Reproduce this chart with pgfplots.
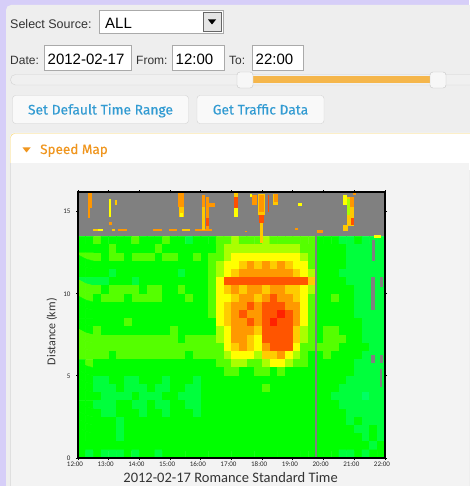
\documentclass[border=0pt]{standalone}
\usepackage{pgfplots}
\pgfplotsset{compat=1.18}
\usepackage{fontspec}
\setmainfont{Liberation Sans}
\newfontfamily\carlito{Carlito}
\newfontfamily\fira[FakeBold=0.3]{Fira Sans}
\definecolor{lav}{RGB}{214,206,248}
\definecolor{panelbg}{RGB}{238,238,238}
\definecolor{secbg}{RGB}{243,243,243}
\definecolor{uitext}{RGB}{51,51,51}
\definecolor{boxborder}{RGB}{170,170,170}
\definecolor{btntext}{RGB}{50,155,210}
\definecolor{btnborder}{RGB}{210,210,210}
\definecolor{smorange}{RGB}{240,150,30}
\definecolor{hdrborder}{RGB}{247,210,100}
\definecolor{slider}{RGB}{245,182,75}
\definecolor{cgray}{RGB}{128,128,128}
\definecolor{cY}{RGB}{255,255,0}
\definecolor{cG}{RGB}{255,200,0}
\definecolor{cO}{RGB}{255,150,0}
\definecolor{cR}{RGB}{255,80,0}
\definecolor{cYG}{RGB}{170,255,0}
\newcommand{\rect}[5]{\addplot[fill=#5,draw=none,forget plot] coordinates {(#1,#3) (#2,#3) (#2,#4) (#1,#4)};}
\newcommand{\fs}[1]{\fontsize{#1}{#1}\selectfont}
\begin{document}
\begin{tikzpicture}[x=1pt,y=1pt]
\useasboundingbox (0,0) rectangle (469,-486);
\fill[lav] (0,0) rectangle (469,-486);
\fill[panelbg, rounded corners=5pt] (6,-5) rectangle (490,-500);
% row 1
\node[anchor=base west, inner sep=0, text=uitext] at (10,-28.5) {\fs{12.5}Select Source:};
\draw[fill=white, draw=boxborder] (99,-10.5) rectangle (223,-33.5);
\node[anchor=base west, inner sep=0] at (105,-28.5) {\fs{15}ALL};
\draw[fill=gray!20, draw=gray!80!black] (203,-12.5) rectangle (221,-31.5);
\fill (208,-19.5) -- (216,-19.5) -- (212,-24.5) -- cycle;
% row 2
\node[anchor=base west, inner sep=0, text=uitext] at (10,-64.5) {\fs{12}Date:};
\draw[fill=white, draw=boxborder] (44,-45.5) rectangle (131,-70.5);
\node[anchor=base west, inner sep=0] at (47.5,-65) {\fs{15}2012-02-17};
\node[anchor=base west, inner sep=0, text=uitext] at (136,-64.5) {\fs{12}From:};
\draw[fill=white, draw=boxborder] (172,-45.5) rectangle (224,-70.5);
\node[anchor=base west, inner sep=0] at (175.5,-65) {\fs{15}12:00};
\node[anchor=base west, inner sep=0, text=uitext] at (229,-64.5) {\fs{12}To:};
\draw[fill=white, draw=boxborder] (252,-45.5) rectangle (303,-70.5);
\node[anchor=base west, inner sep=0] at (255.5,-65) {\fs{15}22:00};
% slider
\draw[fill=gray!12, draw=gray!35, rounded corners=5pt] (10.5,-74.5) rectangle (480,-85);
\fill[slider] (245,-76) rectangle (437,-83);
\draw[fill=gray!6, draw=gray!45, rounded corners=3pt] (237,-72) rectangle (253,-88);
\draw[fill=gray!6, draw=gray!45, rounded corners=3pt] (430,-72) rectangle (446,-88);
% buttons
\draw[fill=gray!5, draw=btnborder, rounded corners=3pt] (12.5,-95.5) rectangle (188.5,-123.5);
\node[anchor=base, inner sep=0, text=btntext] at (100.5,-114.5) {\fira\fs{13.8}Set Default Time Range};
\draw[fill=gray!5, draw=btnborder, rounded corners=3pt] (197,-95.5) rectangle (324,-123.5);
\node[anchor=base, inner sep=0, text=btntext] at (260.5,-114.5) {\fira\fs{13.8}Get Traffic Data};
% section
\fill[white, rounded corners=4pt] (10,-133) rectangle (480,-170);
\fill[secbg] (10,-163.5) rectangle (469,-486);
\draw[hdrborder, rounded corners=4pt] (10.5,-163.5) -- (10.5,-133.5) -- (480,-133.5);
\draw[gray!25] (10.5,-163.5) -- (10.5,-486);
\fill[smorange] (22.5,-147.5) -- (30.5,-147.5) -- (26.5,-152.5) -- cycle;
\node[anchor=base west, inner sep=0, text=smorange] at (40,-154) {\fira\fs{13.5}Speed Map};
% chart
\begin{axis}[
  at={(78pt,-458pt)}, anchor=south west,
  scale only axis, width=307pt, height=266pt,
  xmin=12, xmax=22, ymin=0, ymax=16.2,
  axis line style={line width=1.6pt, black},
  xtick={12,13,14,15,16,17,18,19,20,21,22},
  xticklabels={12:00,13:00,14:00,15:00,16:00,17:00,18:00,19:00,20:00,21:00,22:00},
  ytick={0,5,10,15},
  tick align=outside, major tick length=2pt,
  tick style={black, line width=1pt},
  /pgf/number format/assume math mode=true,
  ticklabel style={font=\carlito\fs{7}, text=black!85},
  xticklabel style={xshift=-3pt, yshift=1.5pt},
  yticklabel style={xshift=-2pt},
  xlabel={2012-02-17 Romance Standard Time},
  ylabel={Distance (km)},
  xlabel style={font=\carlito\fs{14.5}, text=black!80, at={(axis description cs:0.497,-0.072)}, anchor=center},
  ylabel style={font=\carlito\fs{12}, text=black!80, at={(axis description cs:-0.085,0.475)}, anchor=center},
  colormap={speed}{rgb255=(128,128,128) rgb255=(0,255,100) rgb255=(0,255,60) rgb255=(0,255,0) rgb255=(85,255,0) rgb255=(170,255,0) rgb255=(255,255,0) rgb255=(255,204,0) rgb255=(255,153,0) rgb255=(255,85,0) rgb255=(255,34,0)},
  colormap access=direct,
  axis on top,
]
\addplot[matrix plot*, mesh/cols=40, point meta=explicit, forget plot]
 table[row sep=\\, x expr={12.125+0.25*mod(\coordindex,40)}, y expr={13.25-0.5*floor(\coordindex/40)}, meta=c] {
c\\
3\\3\\4\\3\\3\\3\\3\\4\\3\\3\\3\\4\\3\\3\\2\\3\\3\\ 3\\ 4\\4\\5\\4\\4\\4\\5\\4\\4\\4\\4\\4\\4\\ 3\\3\\3\\2\\2\\3\\2\\2\\2\\
3\\3\\3\\3\\4\\3\\3\\3\\3\\3\\4\\3\\3\\3\\3\\3\\3\\ 3\\ 4\\5\\5\\5\\5\\5\\5\\5\\5\\5\\5\\4\\4\\ 3\\3\\3\\3\\2\\2\\2\\2\\2\\
4\\4\\4\\3\\4\\4\\3\\4\\4\\4\\3\\4\\4\\3\\3\\4\\3\\ 4\\ 4\\5\\6\\6\\6\\6\\6\\6\\6\\6\\6\\5\\4\\ 3\\3\\3\\3\\2\\2\\2\\2\\2\\
3\\3\\3\\3\\3\\3\\3\\3\\3\\3\\3\\3\\3\\3\\3\\3\\3\\ 4\\ 5\\6\\6\\7\\8\\7\\8\\7\\8\\7\\6\\6\\4\\ 3\\3\\3\\3\\2\\2\\2\\2\\2\\
3\\3\\3\\3\\2\\3\\3\\3\\3\\3\\3\\3\\3\\2\\3\\3\\3\\ 4\\ 5\\6\\7\\8\\8\\8\\8\\8\\8\\8\\7\\6\\5\\ 3\\3\\3\\2\\2\\2\\2\\2\\2\\
2\\2\\2\\2\\3\\3\\3\\2\\3\\3\\3\\3\\3\\3\\3\\3\\3\\ 4\\ 6\\9\\9\\9\\9\\9\\9\\9\\9\\9\\9\\9\\7\\ 3\\3\\3\\3\\2\\2\\2\\2\\2\\
4\\4\\4\\3\\4\\4\\4\\4\\3\\4\\4\\3\\3\\4\\3\\3\\3\\ 4\\ 6\\7\\8\\7\\8\\8\\7\\8\\8\\7\\7\\6\\5\\ 3\\3\\3\\3\\3\\2\\2\\2\\2\\
4\\4\\3\\4\\4\\4\\3\\4\\4\\4\\4\\3\\3\\3\\4\\3\\3\\ 4\\ 6\\6\\7\\8\\8\\7\\8\\9\\8\\8\\7\\6\\4\\ 3\\3\\4\\3\\3\\2\\2\\2\\2\\
3\\3\\3\\3\\3\\3\\3\\3\\3\\3\\3\\3\\3\\3\\3\\3\\3\\ 4\\ 6\\7\\8\\8\\9\\8\\9\\9\\9\\8\\8\\6\\4\\ 3\\3\\3\\3\\3\\2\\2\\2\\2\\
3\\3\\3\\3\\3\\3\\3\\3\\3\\3\\3\\3\\3\\3\\3\\3\\3\\ 4\\ 6\\7\\8\\9\\8\\8\\9\\9\\10\\9\\8\\6\\4\\ 3\\3\\3\\3\\3\\2\\2\\2\\2\\
3\\3\\3\\3\\3\\3\\4\\3\\3\\3\\3\\3\\3\\3\\3\\3\\3\\ 3\\ 6\\7\\8\\8\\9\\8\\9\\10\\9\\9\\8\\6\\4\\ 3\\3\\3\\3\\3\\3\\2\\2\\2\\
3\\3\\4\\3\\3\\3\\3\\3\\3\\3\\3\\3\\4\\3\\3\\3\\3\\ 3\\ 5\\6\\8\\8\\8\\7\\9\\9\\9\\9\\7\\5\\4\\ 3\\4\\4\\3\\3\\3\\2\\2\\2\\
4\\4\\4\\4\\4\\4\\4\\4\\4\\4\\4\\4\\4\\3\\4\\4\\4\\ 4\\ 5\\6\\8\\8\\7\\6\\9\\9\\9\\9\\7\\5\\4\\ 3\\4\\4\\4\\3\\3\\2\\2\\2\\
4\\4\\4\\4\\4\\4\\4\\4\\4\\4\\4\\4\\4\\4\\4\\4\\4\\ 4\\ 4\\6\\7\\8\\7\\6\\8\\9\\9\\9\\6\\4\\4\\ 4\\4\\4\\3\\3\\3\\3\\2\\2\\
4\\4\\4\\4\\3\\4\\4\\4\\4\\4\\4\\4\\4\\4\\3\\4\\4\\ 4\\ 4\\5\\6\\6\\6\\5\\7\\7\\8\\6\\5\\4\\3\\ 3\\4\\3\\3\\3\\3\\2\\2\\2\\
3\\4\\3\\3\\3\\3\\3\\3\\3\\3\\3\\3\\3\\3\\3\\3\\3\\ 3\\ 4\\4\\5\\5\\4\\4\\5\\6\\6\\5\\4\\4\\3\\ 3\\3\\3\\3\\3\\2\\2\\2\\2\\
3\\3\\3\\3\\3\\3\\3\\3\\3\\3\\3\\3\\3\\3\\3\\3\\3\\ 3\\ 3\\4\\4\\3\\3\\4\\4\\3\\4\\3\\3\\3\\3\\ 3\\3\\3\\3\\3\\2\\2\\2\\2\\
3\\3\\2\\2\\3\\3\\2\\2\\3\\3\\3\\2\\3\\3\\3\\2\\3\\ 3\\ 3\\3\\3\\3\\3\\3\\3\\3\\3\\3\\3\\3\\3\\ 3\\3\\3\\3\\2\\2\\2\\2\\2\\
3\\3\\2\\2\\2\\3\\2\\2\\2\\3\\2\\2\\3\\3\\2\\2\\3\\ 3\\ 3\\3\\3\\3\\3\\3\\4\\3\\3\\3\\3\\3\\3\\ 3\\3\\3\\2\\2\\2\\2\\2\\2\\
3\\3\\3\\2\\2\\2\\2\\3\\2\\2\\2\\3\\3\\2\\2\\2\\3\\ 3\\ 3\\3\\3\\3\\3\\3\\3\\3\\3\\3\\3\\3\\3\\ 3\\3\\2\\2\\2\\2\\1\\2\\2\\
3\\3\\2\\2\\2\\3\\3\\2\\2\\3\\2\\2\\3\\3\\2\\2\\3\\ 3\\ 3\\3\\3\\3\\3\\3\\3\\3\\3\\3\\3\\3\\3\\ 3\\3\\3\\2\\2\\2\\2\\2\\2\\
3\\3\\3\\2\\2\\3\\3\\3\\2\\3\\3\\2\\3\\3\\3\\2\\3\\ 3\\ 3\\3\\3\\3\\3\\3\\3\\3\\3\\3\\3\\3\\3\\ 3\\3\\3\\3\\2\\2\\2\\2\\2\\
3\\3\\3\\3\\3\\2\\3\\3\\3\\3\\3\\3\\3\\3\\3\\3\\3\\ 3\\ 3\\3\\3\\3\\3\\3\\3\\3\\3\\3\\3\\3\\3\\ 3\\3\\3\\3\\2\\3\\2\\2\\2\\
3\\3\\3\\3\\3\\2\\3\\3\\3\\3\\3\\3\\3\\3\\3\\3\\3\\ 3\\ 3\\3\\3\\3\\3\\3\\3\\3\\3\\3\\3\\3\\3\\ 3\\3\\3\\3\\3\\2\\2\\3\\2\\
3\\3\\3\\3\\3\\2\\3\\3\\3\\3\\3\\3\\3\\3\\3\\3\\3\\ 3\\ 3\\3\\3\\3\\3\\3\\3\\3\\3\\3\\3\\3\\3\\ 3\\3\\3\\3\\3\\3\\2\\3\\2\\
3\\3\\3\\3\\3\\3\\3\\3\\3\\3\\3\\3\\3\\3\\3\\3\\3\\ 3\\ 3\\3\\3\\3\\3\\3\\3\\3\\3\\3\\3\\3\\3\\ 3\\3\\3\\3\\3\\3\\3\\2\\3\\
3\\2\\3\\2\\2\\2\\3\\2\\3\\3\\2\\3\\3\\3\\3\\3\\3\\ 3\\ 3\\3\\3\\3\\3\\3\\3\\3\\3\\3\\3\\3\\3\\ 3\\3\\3\\2\\2\\3\\2\\3\\3\\
};
% no-data band and isolated readings
\rect{12}{22}{13.5}{16.4}{cgray}
\rect{12.33}{12.45}{15.2}{16.2}{cO}
\rect{12.33}{12.38}{14.6}{15.2}{cO}
\rect{13.02}{13.08}{14.7}{15.75}{cY}
\rect{13.2}{13.27}{15.4}{15.7}{cG}
\rect{13.02}{13.1}{14.2}{14.4}{cO}
\rect{12.49}{12.65}{13.85}{13.95}{cG}
\rect{12.65}{12.81}{13.85}{13.95}{cY}
\rect{13.1}{13.2}{13.85}{13.95}{cG}
\rect{13.3}{13.6}{13.85}{13.95}{cO}
\rect{14.44}{14.74}{13.85}{13.95}{cO}
\rect{14.96}{15.22}{13.85}{13.95}{cO}
\rect{15.4}{15.65}{13.85}{13.95}{cG}
\rect{15.8}{16.37}{13.85}{13.95}{cO}
\rect{15.27}{15.45}{15.3}{16.2}{cO}
\rect{15.3}{15.45}{14.7}{15.3}{cG}
\rect{15.32}{15.42}{14.7}{14.95}{cY}
\rect{16.05}{16.13}{13.9}{16.0}{cG}
\rect{16.05}{16.13}{15.3}{16.0}{cO}
\rect{16.18}{16.28}{13.9}{15.9}{cO}
\rect{16.18}{16.28}{14.1}{14.6}{cR}
\rect{16.25}{16.45}{15.3}{15.5}{cO}
\rect{17.08}{17.21}{14.7}{16.2}{cY}
\rect{17.08}{17.21}{15.2}{15.9}{cR}
\rect{17.08}{17.21}{15.9}{16.2}{cG}
\rect{17.6}{17.67}{15.9}{16.1}{cY}
\rect{17.67}{17.83}{15.4}{16.0}{cO}
\rect{17.86}{18.09}{14.8}{16.1}{cG}
\rect{17.9}{18.05}{15.0}{16.0}{cO}
\rect{17.9}{18.05}{14.3}{14.8}{cR}
\rect{17.93}{18.03}{13.1}{14.3}{cG}
\rect{18.18}{18.22}{15.0}{16.0}{cR}
\rect{18.35}{18.5}{15.4}{16.1}{cG}
\rect{18.4}{18.5}{15.6}{16.1}{cO}
\rect{19.15}{19.3}{15.35}{15.5}{cY}
\rect{19.07}{19.17}{13.9}{14.0}{cO}
\rect{17.44}{17.5}{13.75}{13.85}{cO}
\rect{19.78}{19.98}{13.7}{13.9}{cO}
\rect{20.63}{20.76}{15.4}{16.0}{cY}
\rect{20.77}{21.0}{14.1}{15.9}{cG}
\rect{20.77}{20.85}{14.8}{15.8}{cYG}
\rect{20.85}{21.0}{15.3}{15.9}{cO}
\rect{20.9}{21.0}{14.2}{14.6}{cR}
\rect{20.63}{20.8}{13.8}{14.2}{cG}
\rect{20.95}{21.05}{16.0}{16.2}{cO}
\rect{21.64}{21.87}{13.4}{13.6}{cY}
% missing cells on the right
\rect{21.55}{21.68}{9.0}{11.0}{cgray}
\rect{21.57}{21.67}{12.0}{13.3}{cgray}
\rect{21.55}{21.68}{5.8}{6.3}{cgray}
\rect{21.84}{21.93}{5.8}{6.3}{cgray}
\rect{21.84}{21.93}{10.4}{11.0}{cgray}
\rect{21.85}{21.9}{4.3}{5.4}{cgray}
\addplot[cgray, line width=1.4pt, forget plot] coordinates {(19.75,0) (19.75,13.5)};
\end{axis}
\end{tikzpicture}
\end{document}
